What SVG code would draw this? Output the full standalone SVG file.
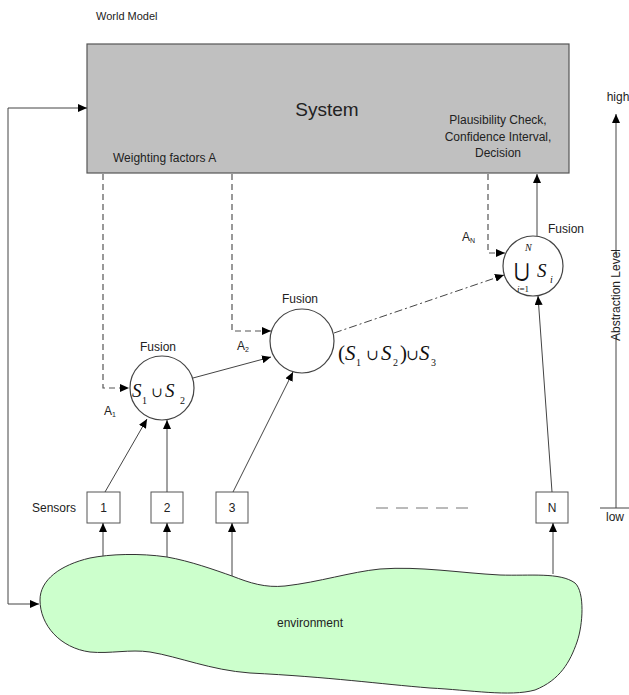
<svg xmlns="http://www.w3.org/2000/svg" width="629" height="695" viewBox="0 0 629 695">
<defs>
<marker id="ah" markerUnits="userSpaceOnUse" markerWidth="10" markerHeight="8" refX="9" refY="4" orient="auto-start-reverse"><path d="M0,0 L9,4 L0,8 z" fill="#000"/></marker>
<style>
text{font-family:"Liberation Sans",Arial,sans-serif;fill:#222}
.lbl{font-size:12px}
.m{font-family:"Liberation Serif","Times New Roman",serif;font-style:italic;fill:#111}
.u{font-family:"DejaVu Serif","Liberation Serif",serif;fill:#111}
.ln{fill:none;stroke:#444;stroke-width:1}
.dash{fill:none;stroke:#555;stroke-width:1.2;stroke-dasharray:6,4}
.dd{fill:none;stroke:#444;stroke-width:1;stroke-dasharray:8,3,2,3}
.circ{fill:#fff;stroke:#444;stroke-width:1.2}
.box{fill:#fff;stroke:#555;stroke-width:1}
</style>
</defs>
<rect width="629" height="695" fill="#fff"/>
<text x="96" y="20" style="font-size:11px">World Model</text>

<g id="system">
<rect x="87" y="44" width="482" height="129" fill="#c0c0c0" stroke="#555" stroke-width="1.2"/>
<text x="327" y="116" text-anchor="middle" style="font-size:19px">System</text>
<text x="113" y="162" class="lbl">Weighting factors A</text>
<text x="498" y="124" text-anchor="middle" class="lbl">Plausibility Check,</text>
<text x="498" y="141" text-anchor="middle" class="lbl">Confidence Interval,</text>
<text x="498" y="157" text-anchor="middle" class="lbl">Decision</text>
</g>

<g id="environment">
<path d="M40,600 C40,580 60,565 90,558 C110,554 140,553 167,557 C190,561 215,570 232,576 C250,583 265,588 285,586 C320,582 350,572 380,569 C420,566 460,573 500,575 C530,576 560,572 575,583 C585,592 583,625 577,642 C570,662 560,680 535,690 C510,697 470,690 430,688 C380,684 330,677 250,673 C210,670 180,657 150,652 C130,649 110,654 90,652 C60,648 40,625 40,600 Z" fill="#ccffcc" stroke="#333" stroke-width="1"/>
<text x="310" y="627" text-anchor="middle" class="lbl">environment</text>
</g>

<g id="fusion1">
<circle cx="162" cy="388" r="32" class="circ"/>
<text x="158" y="351" text-anchor="middle" class="lbl">Fusion</text>
<text x="132" y="397" class="m" style="font-size:19px">S</text>
<text x="142" y="404" class="m" style="font-size:10px;font-style:normal">1</text>
<text x="151" y="397" class="u" style="font-size:14px">∪</text>
<text x="165" y="397" class="m" style="font-size:19px">S</text>
<text x="180" y="404" class="m" style="font-size:10px;font-style:normal">2</text>
</g>

<g id="fusion2">
<circle cx="302" cy="341" r="32" class="circ"/>
<text x="300" y="303" text-anchor="middle" class="lbl">Fusion</text>
<text x="338" y="360" class="m" style="font-size:21px;font-style:normal">(</text>
<text x="345" y="360" class="m" style="font-size:21px">S</text>
<text x="356" y="366" class="m" style="font-size:10px;font-style:normal">1</text>
<text x="366" y="360" class="u" style="font-size:15px">∪</text>
<text x="381" y="360" class="m" style="font-size:21px">S</text>
<text x="393" y="366" class="m" style="font-size:10px;font-style:normal">2</text>
<text x="400" y="360" class="m" style="font-size:21px;font-style:normal">)</text>
<text x="406" y="360" class="u" style="font-size:15px">∪</text>
<text x="419" y="360" class="m" style="font-size:21px">S</text>
<text x="431" y="366" class="m" style="font-size:10px;font-style:normal">3</text>
</g>

<g id="fusionN">
<circle cx="533" cy="266" r="30" class="circ"/>
<text x="548" y="233" class="lbl">Fusion</text>
<text x="525" y="251" class="m" style="font-size:10px">N</text>
<text x="514" y="277" class="u" style="font-size:19px">⋃</text>
<text x="537" y="277" class="m" style="font-size:19px">S</text>
<text x="550" y="283" class="m" style="font-size:10px">i</text>
<text x="517" y="292" class="m" style="font-size:9px">i<tspan style="font-style:normal">=1</tspan></text>
</g>

<g id="sensors">
<text x="32" y="512" class="lbl">Sensors</text>
<g id="sensor1"><rect x="87" y="492" width="33" height="31" class="box"/><text x="103.5" y="512" text-anchor="middle" class="lbl">1</text></g>
<g id="sensor2"><rect x="151" y="492" width="32" height="31" class="box"/><text x="167" y="512" text-anchor="middle" class="lbl">2</text></g>
<g id="sensor3"><rect x="216" y="492" width="32" height="31" class="box"/><text x="232" y="512" text-anchor="middle" class="lbl">3</text></g>
<g id="sensorN"><rect x="536" y="492" width="32" height="31" class="box"/><text x="552" y="512" text-anchor="middle" class="lbl">N</text></g>
<path d="M376,508 H472" fill="none" stroke="#777" stroke-width="1.2" stroke-dasharray="12,8"/>
</g>

<g id="axis">
<path d="M616,508 V336" class="ln"/>
<path d="M616,255 V114" class="ln" marker-end="url(#ah)"/>
<path d="M600,508 H629" class="ln"/>
<text x="618" y="101" text-anchor="middle" class="lbl">high</text>
<text x="615" y="521" text-anchor="middle" class="lbl">low</text>
<text transform="translate(620,295) rotate(-90)" text-anchor="middle" class="lbl">Abstraction Level</text>
</g>

<g id="connectors">
<path d="M87,108 H8 V604 H39" class="ln" marker-start="url(#ah)" marker-end="url(#ah)"/>
<path d="M103,174 V388 H129" class="dash" marker-end="url(#ah)"/>
<path d="M232,174 V331 H271" class="dash" marker-end="url(#ah)"/>
<path d="M488,174 V253 H505" class="dash" marker-end="url(#ah)"/>
<path d="M537,236 V174" class="ln" marker-end="url(#ah)"/>
<path d="M193,378 L271,357" class="ln" marker-end="url(#ah)"/>
<path d="M334,333 L504,275" class="dd" marker-end="url(#ah)"/>
<path d="M105,492 L147,419" class="ln" marker-end="url(#ah)"/>
<path d="M167,492 V420" class="ln" marker-end="url(#ah)"/>
<path d="M233,492 L293,372" class="ln" marker-end="url(#ah)"/>
<path d="M552,492 L538,296" class="ln" marker-end="url(#ah)"/>
<path d="M103,556 V523" class="ln" marker-end="url(#ah)"/>
<path d="M167,557 V523" class="ln" marker-end="url(#ah)"/>
<path d="M232,576 V523" class="ln" marker-end="url(#ah)"/>
<path d="M553,574 V523" class="ln" marker-end="url(#ah)"/>
<text x="104" y="415" class="lbl">A<tspan style="font-size:7px" dy="2">1</tspan></text>
<text x="237" y="350" class="lbl">A<tspan style="font-size:7px" dy="2">2</tspan></text>
<text x="462" y="241" class="lbl">A<tspan style="font-size:7px" dy="2">N</tspan></text>
</g>
</svg>
